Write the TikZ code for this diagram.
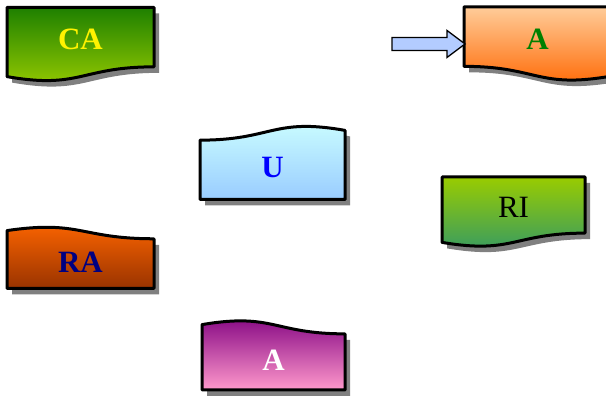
\documentclass[tikz,border=0pt]{standalone}
\usepackage{fontspec}
\setmainfont{Liberation Serif}
\usetikzlibrary{calc, positioning}

\definecolor{cadark}{RGB}{30,128,0}
\definecolor{calight}{RGB}{153,204,0}
\definecolor{apeach}{RGB}{255,204,153}
\definecolor{aorange}{RGB}{255,102,0}
\definecolor{ucyan}{RGB}{204,255,255}
\definecolor{ublue}{RGB}{153,204,255}
\definecolor{rabrown}{RGB}{153,51,0}
\definecolor{apurple}{RGB}{128,0,128}
\definecolor{apink}{RGB}{255,153,204}
\definecolor{riteal}{RGB}{51,153,102}
\definecolor{ptrblue}{RGB}{179,204,255}
\definecolor{docshade}{RGB}{128,128,128}

\pgfdeclarelayer{background}
\pgfsetlayers{background,main}

% document box: node, width, height, x flip, y flip, top colour, bottom colour
\newcommand{\docshape}[7]{%
  \begin{scope}[shift={($(#1.center)+(5,-6-5*#5)$)}, xscale=#2*#4, yscale=#3*#5]
    \fill[docshade] (-0.5,0.5) -- (0.5,0.5) -- (0.5,-0.302)
      .. controls (0,-0.302) and (0,-0.608) .. (-0.5,-0.434) -- cycle;
  \end{scope}
  \begin{scope}[shift={($(#1.center)+(0,-5*#5)$)}, xscale=#2*#4, yscale=#3*#5]
    \draw[line width=3pt, line join=round, top color=#6, bottom color=#7]
      (-0.5,0.5) -- (0.5,0.5) -- (0.5,-0.302)
      .. controls (0,-0.302) and (0,-0.608) .. (-0.5,-0.434) -- cycle;
  \end{scope}}

\begin{document}
\begin{tikzpicture}[x=1pt, y=1pt,
                    doc node/.style={inner sep=0pt,
                      font=\bfseries\fontsize{31}{31}\selectfont}]
  \useasboundingbox (0,0) rectangle (606,-398);

  \node[doc node, text=yellow] (ca) at (80.5,-39.5) {CA};
  \node[doc node, text={rgb,255:red,0;green,128;blue,0}] (atop) at (537.5,-39) {A};
  \node[doc node, text=blue] (u) at (272.5,-167.5) {U};
  \node[doc node, text={rgb,255:red,0;green,0;blue,128}] (ra) at (80.5,-262.5) {RA};
  \node[doc node, text=white] (abot) at (273.5,-360) {A};
  \node[doc node, font=\fontsize{31}{31}\selectfont] (ri) at (513.5,-207) {RI};

  \begin{pgfonlayer}{background}
    \docshape{ca}{147}{74}{1}{1}{cadark}{calight}
    \docshape{atop}{147}{74}{-1}{1}{apeach}{aorange}
    \docshape{u}{145}{74}{-1}{-1}{ucyan}{ublue}
    \docshape{ra}{147}{62}{1}{-1}{aorange}{rabrown}
    \docshape{abot}{143}{70}{1}{-1}{apurple}{apink}
    \docshape{ri}{143}{70}{1}{1}{calight}{riteal}
  \end{pgfonlayer}

  \coordinate (tip) at ($(atop.center)+(-72.5,-5)$);
  \draw[line width=1.3pt, fill=ptrblue, line join=miter]
    (tip) -- ++(-18,13.5) -- ++(0,-7) -- ++(-55,0) -- ++(0,-13)
    -- ++(55,0) -- ++(0,-7) -- cycle;
\end{tikzpicture}
\end{document}
